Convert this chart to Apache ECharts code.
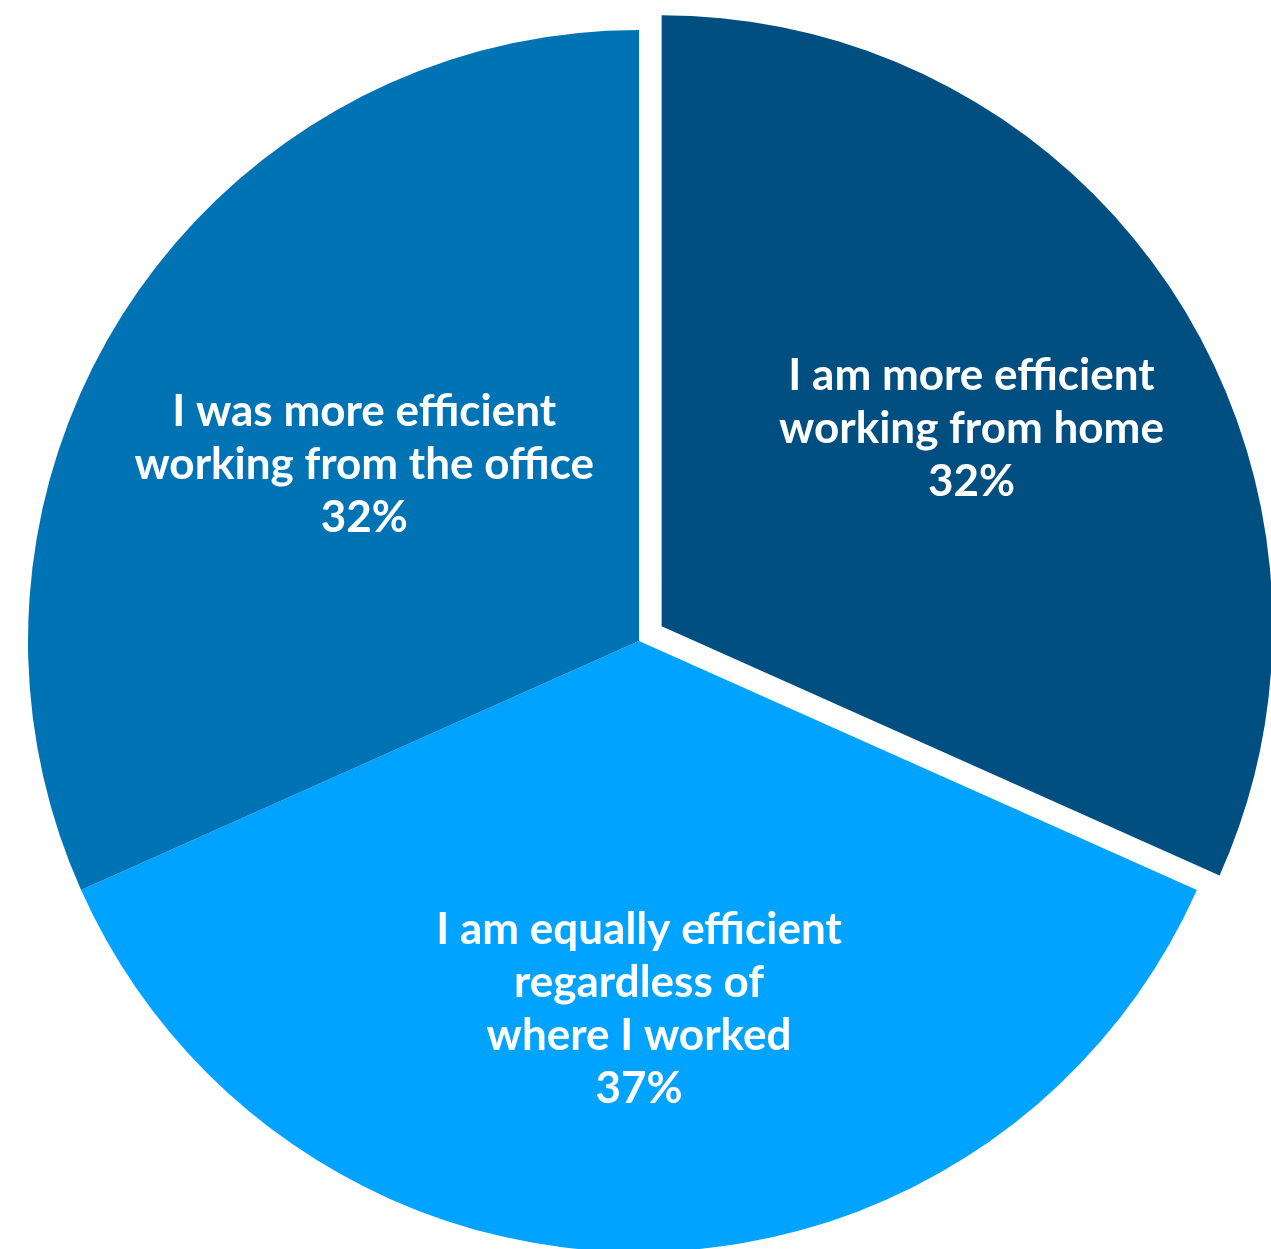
<!DOCTYPE html>
<html>
<head>
<meta charset="utf-8">
<script src="https://cdn.jsdelivr.net/npm/echarts@6/dist/echarts.min.js"></script>
<style>
  html, body { margin: 0; padding: 0; background: #ffffff; }
  #chart { width: 1271px; height: 1249px; }
</style>
</head>
<body>
<div id="chart"></div>
<script>
// Survey answers about where people work most efficiently
const categories = [
  'I am more efficient\nworking from home',
  'I am equally efficient\nregardless of\nwhere I worked',
  'I was more efficient\nworking from the office'
];
const values = [32, 37, 32];
const colors = ['#004F80', '#00A3FF', '#0073B5'];
// Horizontal padding and blank spacer rows nudge each label away from the slice centre
const labelPads = [[0, 0, 0, 102], [0, 0, 0, 0], [0, 32, 0, 0]];
const gapAbove = [0, 120, 0];
const gapBelow = [60, 0, 16];

const chart = echarts.init(document.getElementById('chart'), null, { renderer: 'canvas' });

function labelText(i) {
  let s = categories[i] + '\n' + values[i] + '%';
  if (gapAbove[i]) s = '{above| }\n' + s;
  if (gapBelow[i]) s = s + '\n{below| }';
  return s;
}

chart.setOption({
  animation: false,
  backgroundColor: '#ffffff',
  series: [{
    type: 'pie',
    center: [639, 641],
    radius: [0, 611],
    startAngle: 90,
    clockwise: true,
    selectedMode: 'single',
    selectedOffset: 27,
    avoidLabelOverlap: false,
    labelLine: { show: false },
    emphasis: { disabled: true },
    label: {
      show: true,
      position: 'inside',
      color: '#ffffff',
      fontFamily: 'Lato',
      fontWeight: 'bold',
      fontSize: 44,
      lineHeight: 53,
      align: 'center'
    },
    data: categories.map((name, i) => ({
      name,
      value: values[i],
      selected: i === 0,
      itemStyle: { color: colors[i] },
      select: { itemStyle: { color: colors[i] } },
      label: {
        padding: labelPads[i],
        formatter: labelText(i),
        rich: {
          above: { lineHeight: gapAbove[i] || 1, fontSize: 1 },
          below: { lineHeight: gapBelow[i] || 1, fontSize: 1 }
        }
      }
    }))
  }]
});
</script>
</body>
</html>
